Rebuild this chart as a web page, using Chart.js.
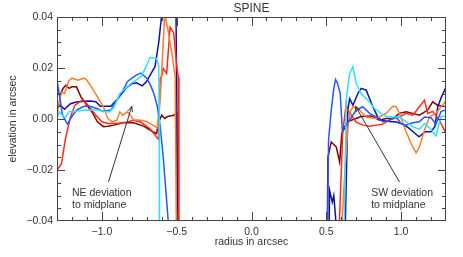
<!DOCTYPE html>
<html>
<head>
<meta charset="UTF-8">
<title>SPINE</title>
<script src="https://cdn.jsdelivr.net/npm/chart.js"></script>
<style>
  body { margin: 0; background: #fff; }
</style>
</head>
<body>
<canvas id="spine" width="463" height="257"></canvas>
<script>
// radius / elevation in arcsec. NE side (negative radius) and SW side.
var navyNeR = [-1.30,-1.27,-1.25,-1.21,-1.17,-1.12,-1.08,-1.04,-1.01,-0.97,-0.94,-0.90,-0.86,-0.83,-0.80,-0.77,-0.73,-0.70,-0.67,-0.645,-0.62,-0.60,-0.58,-0.53,-0.505,-0.49];
var navyNeE = [0.0060,0.0050,0.0038,0.0060,0.0067,0.0070,0.0071,0.0068,0.0050,0.0050,0.0050,0.0075,0.0105,0.0125,0.0138,0.0142,0.0130,0.0148,0.0180,0.0205,0.0300,0.0410,0.0600,0.0600,0.0450,-0.0600];
var navySwR = [0.515,0.522,0.54,0.55,0.562,0.575,0.62,0.644,0.656,0.678,0.711,0.733,0.767,0.789,0.811,0.844,0.87,0.92,0.97,1.01,1.05,1.08,1.12,1.16,1.20,1.225,1.245,1.27,1.30];
var navySwE = [-0.060,-0.028,-0.0326,-0.030,-0.0385,-0.060,-0.060,0.0035,0.0080,0.0054,0.0100,0.0120,0.0113,0.0080,0.0048,0.0008,-0.0005,-0.0010,-0.0012,-0.0020,-0.0035,-0.0050,-0.0070,-0.0050,-0.0050,-0.0030,0.0048,0.0087,0.0125];

var blueNeR = [-1.30,-1.28,-1.265,-1.25,-1.23,-1.20,-1.17,-1.12,-1.08,-1.03,-0.99,-0.94,-0.90,-0.86,-0.83,-0.80,-0.77,-0.74,-0.70,-0.67,-0.65,-0.63,-0.61,-0.59,-0.57,-0.55];
var blueNeE = [0.0152,0.0080,0.0020,0.0000,-0.0020,0.0010,0.0035,0.0050,0.0050,0.0040,0.0030,0.0035,0.0074,0.0110,0.0146,0.0160,0.0172,0.0180,0.0160,0.0126,0.0095,0.0050,-0.0030,-0.0150,-0.0300,-0.0450];
var blueSwR = [0.505,0.515,0.533,0.55,0.562,0.575,0.593,0.607,0.62,0.655,0.70,0.744,0.789,0.833,0.878,0.922,0.967,1.00,1.033,1.078,1.122,1.156,1.20,1.233,1.267,1.30];
var blueSwE = [-0.060,-0.0083,0.0035,0.0120,0.0155,0.0140,0.0100,-0.0044,-0.0030,-0.0005,0.0035,0.0048,0.0022,0.0008,-0.0011,-0.0005,0.0008,-0.0018,-0.0024,-0.0015,-0.0011,0.0008,0.0005,-0.0020,0.0030,0.0035];

var cyanNeR = [-1.30,-1.285,-1.265,-1.245,-1.22,-1.18,-1.13,-1.08,-1.03,-0.99,-0.95,-0.92,-0.88,-0.83,-0.79,-0.74,-0.70,-0.68,-0.655,-0.635,-0.62,-0.617,-0.615];
var cyanNeE = [0.0002,0.0028,0.0015,0.0005,0.0028,0.0030,0.0033,0.0035,0.0035,0.0030,0.0028,0.0045,0.0100,0.0126,0.0146,0.0165,0.0210,0.0240,0.0240,0.0238,0.0210,0.0000,-0.0600];
var cyanSwR = [0.615,0.633,0.656,0.678,0.70,0.733,0.778,0.822,0.867,0.90,0.944,0.989,1.033,1.078,1.122,1.156,1.20,1.233,1.267,1.30];
var cyanSwE = [-0.060,0.0074,0.0179,0.0205,0.0139,0.0100,0.0074,0.0041,0.0022,0.0010,0.0008,0.0008,-0.0010,-0.0031,-0.0040,-0.0018,-0.0040,-0.0066,0.0010,0.0012];

var orangeNeR = [-1.30,-1.285,-1.27,-1.25,-1.22,-1.20,-1.16,-1.12,-1.10,-1.07,-1.03,-0.99,-0.96,-0.93,-0.90,-0.88,-0.86,-0.83,-0.81,-0.79,-0.74,-0.70,-0.66,-0.63,-0.61,-0.58,-0.56,-0.53,-0.51,-0.50];
var orangeNeE = [0.0008,0.0070,0.0105,0.0100,0.0150,0.0160,0.0152,0.0160,0.0152,0.0126,0.0087,0.0048,0.0002,-0.0011,-0.0005,0.0028,0.0015,0.0028,0.0015,-0.0003,-0.0005,-0.0010,-0.0024,-0.0035,0.0080,0.0410,0.0355,0.0250,0.0165,-0.0600];
var orangeSwR = [0.59,0.60,0.625,0.645,0.66,0.68,0.72,0.767,0.833,0.90,0.944,0.967,0.989,1.033,1.078,1.10,1.122,1.156,1.189,1.233,1.267,1.30];
var orangeSwE = [-0.060,-0.045,-0.020,-0.003,0.003,0.0048,0.0035,0.0008,0.0002,0.0022,0.0050,0.0048,0.0022,-0.0050,-0.0110,-0.0132,-0.0110,-0.0044,0.0008,0.0022,0.0048,0.0072];

var redNeR = [-1.30,-1.27,-1.245,-1.21,-1.18,-1.13,-1.10,-1.04,-1.00,-0.96,-0.90,-0.83,-0.79,-0.74,-0.68,-0.635,-0.622,-0.61,-0.60,-0.59,-0.567,-0.544,-0.52,-0.50,-0.49,-0.485];
var redNeE = [-0.0201,-0.0175,-0.0083,0.0008,0.0054,0.0074,0.0060,0.0015,-0.0011,-0.0018,-0.0018,-0.0012,-0.0005,-0.0012,-0.0037,-0.0070,-0.0080,0.0158,0.0170,0.0198,0.0179,0.0360,0.0337,0.0210,0.0165,-0.0600];
var redSwR = [0.575,0.61,0.633,0.644,0.667,0.70,0.744,0.789,0.833,0.87,0.90,0.944,0.989,1.033,1.078,1.122,1.156,1.178,1.211,1.256,1.30];
var redSwE = [-0.060,-0.0050,0.0060,0.0035,0.0015,-0.0012,-0.0024,-0.0028,-0.0024,-0.0022,-0.0012,0.0002,0.0008,0.0022,0.0015,0.0048,0.0074,0.0022,0.0030,-0.0005,-0.0057];

var maroonNeR = [-1.30,-1.28,-1.26,-1.24,-1.22,-1.20,-1.17,-1.14,-1.10,-1.06,-1.03,-0.99,-0.96,-0.92,-0.86,-0.79,-0.72,-0.66,-0.635,-0.62,-0.60,-0.58,-0.56,-0.52,-0.50,-0.49];
var maroonNeE = [0.0106,0.0093,0.0120,0.0133,0.0120,0.0126,0.0126,0.0087,0.0054,0.0022,-0.0011,-0.0030,-0.0028,-0.0024,-0.0015,-0.0015,-0.0028,-0.0050,-0.0057,-0.0011,0.0015,0.0002,0.0010,0.0015,0.0022,-0.0600];
var maroonSwR = [0.504,0.511,0.533,0.567,0.589,0.604,0.644,0.689,0.733,0.80,0.856,0.90,0.944,0.989,1.033,1.078,1.122,1.178,1.211,1.244,1.30];
var maroonSwE = [-0.060,-0.0149,-0.0090,-0.0110,-0.0168,-0.0057,-0.0010,0.0000,0.0010,0.0012,-0.0005,0.0002,0.0002,0.0022,0.0028,0.0022,0.0015,0.0035,0.0067,0.0054,0.0048];

// axis labels
var xTicks = [-1.0, -0.5, 0.0, 0.5, 1.0];
var yTicks = [-0.04, -0.02, 0.00, 0.02, 0.04];

// annotations: arrow tail, arrow head, label lines
var neArrow = [[-0.956, -0.0247], [-0.80, 0.005]];
var swArrow = [[0.989, -0.0247], [0.695, 0.005]];
var neLabel = { x: -1.20, y: [-0.0290, -0.0338], text: ['NE deviation', 'to midplane'] };
var swLabel = { x: 0.80, y: [-0.0290, -0.0338], text: ['SW deviation', 'to midplane'] };

function serie(ne_r, ne_e, sw_r, sw_e){
  var pts = [];
  for (var i = 0; i < ne_r.length; i++) pts.push({ x: ne_r[i], y: ne_e[i] });
  pts.push({ x: 0, y: null }); // gap between the two sides
  for (var j = 0; j < sw_r.length; j++) pts.push({ x: sw_r[j], y: sw_e[j] });
  return pts;
}

function fmt(v){
  var s = Math.abs(v) < 1e-9 ? '0.00' : Math.abs(v).toFixed(2);
  return v < -1e-9 ? '\u2212' + s : s;
}

Chart.defaults.font.family = 'Liberation Sans';
Chart.defaults.font.size = 10.5;
Chart.defaults.color = '#333';

// IDL-like frame: box, inward ticks on all four sides, titles, arrows
var frame = {
  id: 'frame',
  afterDatasetsDraw: function(chart){
    var ctx = chart.ctx, a = chart.chartArea, xs = chart.scales.x, ys = chart.scales.y;
    ctx.save();
    ctx.strokeStyle = '#444';
    ctx.lineWidth = 1;
    ctx.strokeRect(a.left + 0.5, a.top + 0.5, a.right - a.left - 1, a.bottom - a.top - 1);

    ctx.beginPath();
    for (var k = -12; k <= 12; k++){
      var px = Math.round(xs.getPixelForValue(k / 10)) + 0.5;
      var len = (k % 5 === 0) ? 9 : 4;
      ctx.moveTo(px, a.bottom); ctx.lineTo(px, a.bottom - len);
      ctx.moveTo(px, a.top); ctx.lineTo(px, a.top + len);
    }
    for (var m = -7; m <= 7; m++){
      var py = Math.round(ys.getPixelForValue(m * 0.005)) + 0.5;
      var ln = (m % 4 === 0) ? 8 : 4;
      ctx.moveTo(a.left, py); ctx.lineTo(a.left + ln, py);
      ctx.moveTo(a.right, py); ctx.lineTo(a.right - ln, py);
    }
    ctx.stroke();

    // arrows
    ctx.strokeStyle = '#333';
    [neArrow, swArrow].forEach(function(ar){
      var x0 = xs.getPixelForValue(ar[0][0]), y0 = ys.getPixelForValue(ar[0][1]);
      var x1 = xs.getPixelForValue(ar[1][0]), y1 = ys.getPixelForValue(ar[1][1]);
      var ang = Math.atan2(y1 - y0, x1 - x0);
      ctx.beginPath();
      ctx.moveTo(x0, y0); ctx.lineTo(x1, y1);
      ctx.moveTo(x1 - 6 * Math.cos(ang - 0.4), y1 - 6 * Math.sin(ang - 0.4));
      ctx.lineTo(x1, y1);
      ctx.lineTo(x1 - 6 * Math.cos(ang + 0.4), y1 - 6 * Math.sin(ang + 0.4));
      ctx.stroke();
    });

    ctx.fillStyle = '#333';
    ctx.font = '10.5px "Liberation Sans"';
    ctx.textBaseline = 'middle';
    ctx.textAlign = 'left';
    [neLabel, swLabel].forEach(function(lb){
      for (var t = 0; t < lb.text.length; t++)
        ctx.fillText(lb.text[t], xs.getPixelForValue(lb.x), ys.getPixelForValue(lb.y[t]));
    });

    ctx.textAlign = 'center';
    var cx = (a.left + a.right) / 2;
    ctx.font = '12px "Liberation Sans"';
    ctx.fillText('SPINE', cx, 8.5);
    ctx.font = '10.5px "Liberation Sans"';
    ctx.fillText('radius in arcsec', cx, 242.5);
    ctx.translate(13, (a.top + a.bottom) / 2);
    ctx.rotate(-Math.PI / 2);
    ctx.fillText('elevation in arcsec', 0, 0);
    ctx.restore();
  }
};

var ctx = document.getElementById('spine').getContext('2d');
var myChart = new Chart(ctx, {
  type: 'line',
  data: {
    datasets: [
      { data: serie(cyanNeR, cyanNeE, cyanSwR, cyanSwE), borderColor: '#2ee0ff' },
      { data: serie(blueNeR, blueNeE, blueSwR, blueSwE), borderColor: '#2458ff' },
      { data: serie(orangeNeR, orangeNeE, orangeSwR, orangeSwE), borderColor: '#ff7d28' },
      { data: serie(redNeR, redNeE, redSwR, redSwE), borderColor: '#ff2a1c' },
      { data: serie(navyNeR, navyNeE, navySwR, navySwE), borderColor: '#1010a2' },
      { data: serie(maroonNeR, maroonNeE, maroonSwR, maroonSwE), borderColor: '#800000' }
    ]
  },
  options: {
    responsive: false,
    animation: false,
    layout: { padding: { top: 17, right: 17, left: 0, bottom: 0 } },
    elements: {
      line: { borderWidth: 1.5, tension: 0 },
      point: { radius: 0 }
    },
    plugins: { legend: { display: false }, tooltip: { enabled: false } },
    scales: {
      x: {
        type: 'linear', min: -1.3, max: 1.3,
        grid: { display: false, drawTicks: false },
        border: { display: false },
        ticks: { padding: 5, callback: function(v){ return fmt(v).replace(/0$/, ''); } },
        afterBuildTicks: function(s){ s.ticks = xTicks.map(function(v){ return { value: v }; }); },
        afterFit: function(s){ s.height = 36; }
      },
      y: {
        type: 'linear', min: -0.04, max: 0.04,
        grid: { display: false, drawTicks: false },
        border: { display: false },
        ticks: { padding: 4, callback: function(v){ return fmt(v); } },
        afterBuildTicks: function(s){ s.ticks = yTicks.map(function(v){ return { value: v }; }); },
        afterFit: function(s){ s.width = 57; }
      }
    }
  },
  plugins: [frame]
});
</script>
</body>
</html>
